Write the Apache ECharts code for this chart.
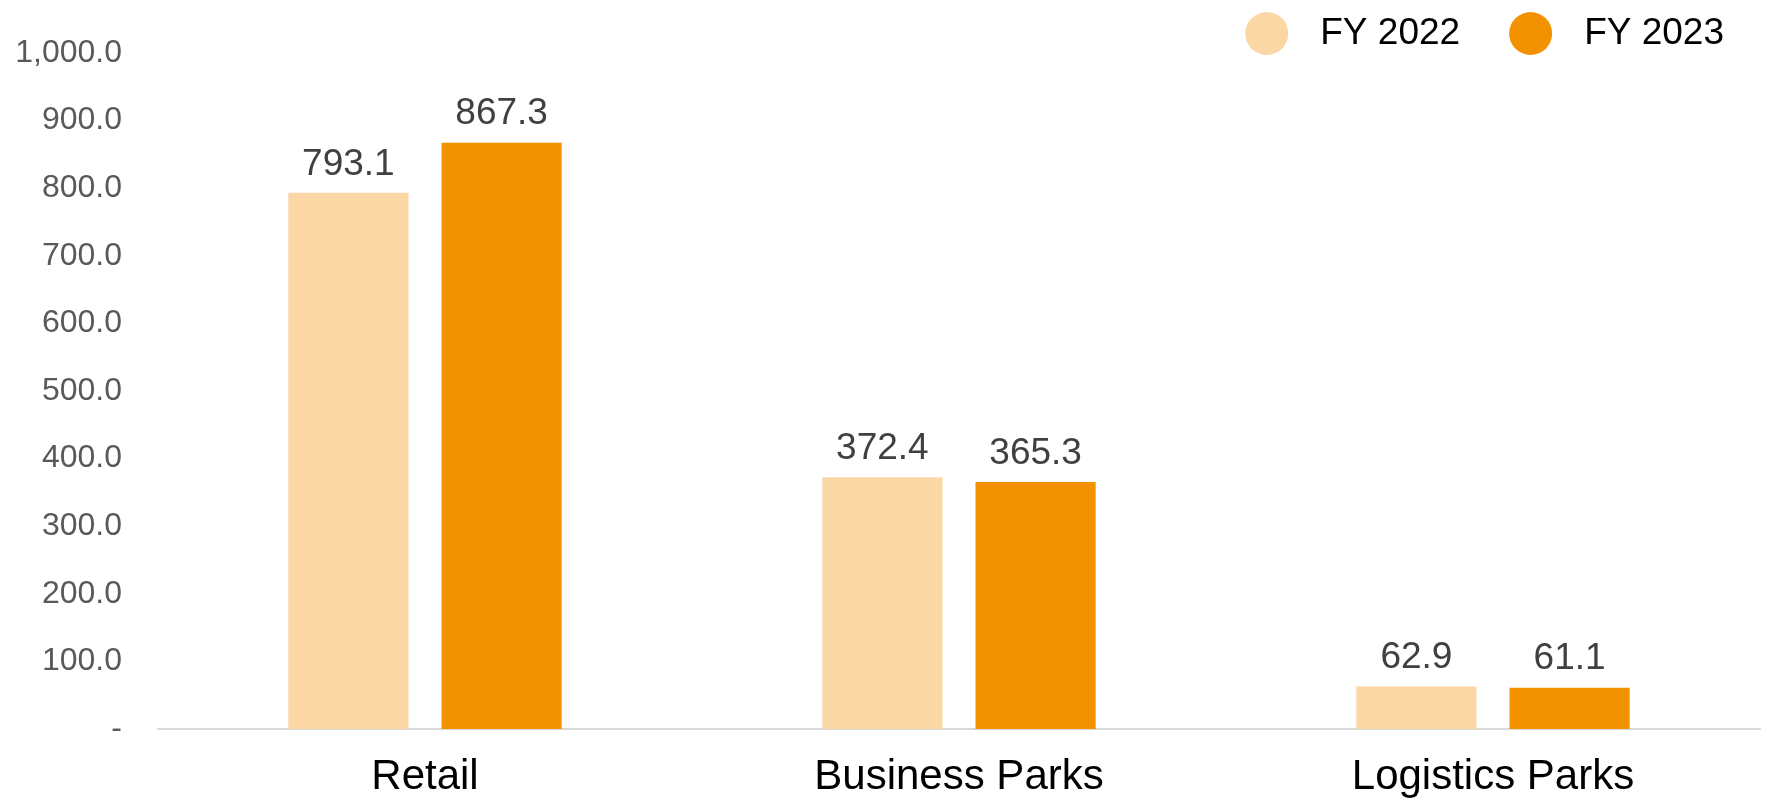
<!DOCTYPE html>
<html>
<head>
<meta charset="utf-8">
<script src="https://cdn.jsdelivr.net/npm/echarts@6/dist/echarts.min.js"></script>
<style>html,body{margin:0;padding:0;background:#fff;}#c{width:1767px;height:800px;}</style>
</head>
<body>
<div id="c"></div>
<script>
const categories = ['Retail', 'Business Parks', 'Logistics Parks'];
const seriesNames = ['FY 2022', 'FY 2023'];
const fy2022 = [793.1, 372.4, 62.9];
const fy2023 = [867.3, 365.3, 61.1];
const colors = ['#FBD7A5', '#F39200'];

function fmtY(v) {
  if (v === 0) return '-';
  return v.toLocaleString('en-US', {minimumFractionDigits: 1, maximumFractionDigits: 1});
}

const chart = echarts.init(document.getElementById('c'));
const labelCfg = {
  show: true, position: 'top', distance: 10,
  fontFamily: 'Liberation Sans, Arial, sans-serif', fontSize: 37, color: '#404040',
  formatter: p => p.value.toFixed(1)
};
chart.setOption({
  animation: false,
  color: colors,
  legend: {
    right: 38, top: 7,
    icon: 'circle', itemWidth: 43, itemHeight: 43, itemGap: 49,
    textStyle: {fontFamily: 'Liberation Sans, Arial, sans-serif', fontSize: 37, color: '#000', padding: [6, 0, 0, 27]},
    data: seriesNames
  },
  grid: {left: 158, right: 7, top: 53, bottom: 71, containLabel: false},
  xAxis: {
    type: 'category', data: categories,
    axisLine: {show: true, lineStyle: {color: '#D9D9D9', width: 2}},
    axisTick: {show: false},
    axisLabel: {fontFamily: 'Liberation Sans, Arial, sans-serif', fontSize: 42, color: '#000', margin: 27}
  },
  yAxis: {
    type: 'value', min: 0, max: 1000, interval: 100,
    axisLine: {show: false}, axisTick: {show: false}, splitLine: {show: false},
    axisLabel: {fontFamily: 'Liberation Sans, Arial, sans-serif', fontSize: 32, color: '#595959', margin: 36, formatter: fmtY}
  },
  series: [
    {name: seriesNames[0], type: 'bar', data: fy2022, barWidth: '22.5%', barGap: '27.5%', label: labelCfg},
    {name: seriesNames[1], type: 'bar', data: fy2023, barWidth: '22.5%', barGap: '27.5%', label: labelCfg}
  ]
});
</script>
</body>
</html>
